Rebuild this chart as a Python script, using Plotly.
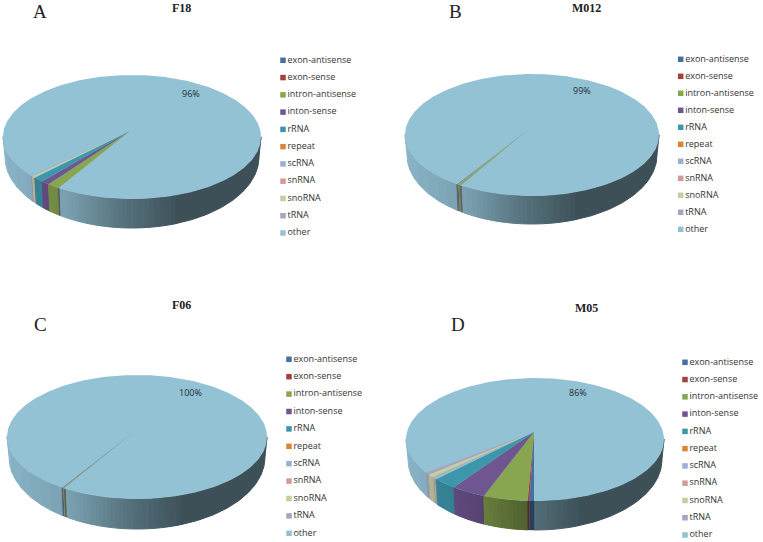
import math
import plotly.graph_objects as go

CATEGORIES = ["exon-antisense", "exon-sense", "intron-antisense", "inton-sense", "rRNA",
              "repeat", "scRNA", "snRNA", "snoRNA", "tRNA", "other"]
F18 = [0.03, 0.03, 1.45, 1.00, 1.20, 0.01, 0.05, 0.08, 0.30, 0.25, 95.60]
M012 = [0.02, 0.02, 0.30, 0.18, 0.12, 0.00, 0.00, 0.00, 0.03, 0.03, 99.30]
F06 = [0.02, 0.02, 0.21, 0.15, 0.05, 0.00, 0.00, 0.00, 0.02, 0.02, 99.51]
M05 = [0.50, 0.20, 5.00, 3.90, 2.80, 0.05, 0.25, 0.25, 0.85, 0.60, 85.60]
PANEL_DATA = [F18, M012, F06, M05]
SAMPLES = ["F18", "M012", "F06", "M05"]
LETTERS = ["A", "B", "C", "D"]

COLORS = ["#44719f", "#a6403d", "#88a550", "#6f5690", "#3e96ac", "#dd8338",
          "#9bb1d3", "#d39a98", "#c0d19d", "#ada1c0", "#93c2d5"]

# pixel geometry of each panel
PIES = [
    dict(cx=132, cy=137, a=129, b=62, depth=29, side=20, ax=130, ay=131, start=30.9),
    dict(cx=532, cy=135, a=127, b=61, depth=28, side=20, ax=529, ay=129, start=30.0),
    dict(cx=137, cy=437, a=130, b=62, depth=30, side=20, ax=135, ay=431, start=30.0),
    dict(cx=535, cy=439.5, a=129, b=61.5, depth=29, side=20, ax=534, ay=432, start=0.0),
]
LEGENDS = [
    dict(x=283, y0=60.3, dy=17.27),
    dict(x=680.7, y0=59.3, dy=17.0),
    dict(x=289, y0=359.3, dy=17.4),
    dict(x=685, y0=362.3, dy=17.27),
]
TITLE_POS = [(181, 8), (586.5, 8), (181, 305), (586, 308)]
LETTER_POS = [(40, 11), (455, 11), (40, 324), (458, 324)]
PCT_POS = [(191, 93), (582, 90), (190, 392), (578, 392)]

SHADE_X = [-1.0, -0.5, -0.1, 0.35, 1.0]
SHADE_Y = [0.93, 0.82, 0.60, 0.42, 0.42]


def shade(rel):
    for i in range(len(SHADE_X) - 1):
        if rel <= SHADE_X[i + 1]:
            t = (rel - SHADE_X[i]) / (SHADE_X[i + 1] - SHADE_X[i])
            return SHADE_Y[i] + t * (SHADE_Y[i + 1] - SHADE_Y[i])
    return SHADE_Y[-1]


def tint(hex_color, f):
    r, g, b = (int(hex_color[i:i + 2], 16) for i in (1, 3, 5))
    return f"rgb({int(r * f)},{int(g * f)},{int(b * f)})"


def rim_phi(p, theta):
    """Ray from the off-centre apex at angle theta (clockwise from the bottom) hits the rim."""
    ox = (p["ax"] - p["cx"]) / p["a"]
    oy = (p["ay"] - p["cy"]) / p["b"]
    dx, dy = -math.sin(theta), math.cos(theta)
    bq = ox * dx + oy * dy
    c = ox * ox + oy * oy - 1
    s = -bq + math.sqrt(bq * bq - c)
    return ox + s * dx, oy + s * dy


fig = go.Figure()

for idx, values in enumerate(PANEL_DATA):
    p = PIES[idx]
    total = sum(values)
    theta = math.radians(p["start"])
    arcs = []
    for v in values:
        sweep = v / total * 2 * math.pi
        n = max(2, int(math.degrees(sweep) / 0.5))
        arcs.append([theta + sweep * k / n for k in range(n + 1)])
        theta += sweep

    # side wall: one polygon per run of equal shade, so no seams fall inside a run
    a2 = p["a"] - 2
    b2 = p["b"] + p["depth"] - p["side"]
    for arc, color, v in zip(reversed(arcs), reversed(COLORS), reversed(values)):
        if v == 0:
            continue
        small = v / total < 0.01
        runs = []
        for t0, t1 in zip(arc[:-1], arc[1:]):
            u0, v0 = rim_phi(p, t0)
            u1, v1 = rim_phi(p, t1)
            if v0 < 0 and v1 < 0:
                continue
            key = round(shade((u0 + u1) / 2) * 60) / 60
            if runs and runs[-1][0] == key and runs[-1][1][-1] == (u0, v0):
                runs[-1][1].append((u1, v1))
            else:
                runs.append((key, [(u0, v0), (u1, v1)]))
        for key, pts in runs:
            top_x = [p["cx"] + p["a"] * u for u, _ in pts]
            top_y = [p["cy"] + p["b"] * v_ for _, v_ in pts]
            low_x = [p["cx"] + a2 * u for u, _ in reversed(pts)]
            low_y = [p["cy"] + p["side"] + b2 * v_ for _, v_ in reversed(pts)]
            c = tint(color, key)
            fig.add_trace(go.Scatter(x=top_x + low_x + top_x[:1], y=top_y + low_y + top_y[:1],
                                     mode="lines", fill="toself", fillcolor=c,
                                     line=dict(color=c, width=0.4 if small else 1),
                                     showlegend=False, hoverinfo="skip"))

    # top face: a whole disc in the "other" colour, with the small wedges above it
    disc_x = [p["cx"] + p["a"] * math.cos(math.radians(d)) for d in range(361)]
    disc_y = [p["cy"] + p["b"] * math.sin(math.radians(d)) for d in range(361)]
    fig.add_trace(go.Scatter(x=disc_x, y=disc_y, mode="lines", fill="toself",
                             fillcolor=COLORS[-1], line=dict(color=COLORS[-1], width=0),
                             showlegend=False, name=CATEGORIES[-1], hoverinfo="name"))
    for i in range(len(values) - 1):
        if values[i] == 0:
            continue
        xs, ys = [p["ax"]], [p["ay"]]
        for t in arcs[i]:
            u, v = rim_phi(p, t)
            xs.append(p["cx"] + p["a"] * u)
            ys.append(p["cy"] + p["b"] * v)
        xs.append(p["ax"])
        ys.append(p["ay"])
        fig.add_trace(go.Scatter(x=xs, y=ys, mode="lines", fill="toself", fillcolor=COLORS[i],
                                 line=dict(color=COLORS[i], width=0), showlegend=False,
                                 name=CATEGORIES[i], hoverinfo="name"))

    # legend
    leg = LEGENDS[idx]
    for j, (name, color) in enumerate(zip(CATEGORIES, COLORS)):
        fig.add_trace(go.Scatter(x=[leg["x"]], y=[leg["y0"] + j * leg["dy"]],
                                 mode="markers+text", text=[name], textposition="middle right",
                                 marker=dict(symbol="square", size=5.5, color=color),
                                 textfont=dict(family="Open Sans", size=9, color="#333333"),
                                 showlegend=False, hoverinfo="skip"))

    pct = f"{round(values[-1] / total * 100)}%"
    fig.add_annotation(x=PCT_POS[idx][0], y=PCT_POS[idx][1], text=pct, showarrow=False,
                       font=dict(family="Open Sans", size=9, color="#1f2d33"))
    fig.add_annotation(x=TITLE_POS[idx][0], y=TITLE_POS[idx][1], text=f"<b>{SAMPLES[idx]}</b>",
                       showarrow=False,
                       font=dict(family="Liberation Serif", size=12, color="#222222"))
    fig.add_annotation(x=LETTER_POS[idx][0], y=LETTER_POS[idx][1], text=LETTERS[idx],
                       showarrow=False,
                       font=dict(family="Liberation Serif", size=19, color="#222222"))

fig.update_layout(
    width=763, height=542, margin=dict(l=0, r=0, t=0, b=0),
    paper_bgcolor="white", plot_bgcolor="white", showlegend=False,
    xaxis=dict(range=[0, 763], visible=False, fixedrange=True),
    yaxis=dict(range=[542, 0], visible=False, fixedrange=True),
)
fig.write_html("out.html", config={"displayModeBar": False},
               post_script="document.body.style.margin='0';document.body.style.overflow='hidden';")
